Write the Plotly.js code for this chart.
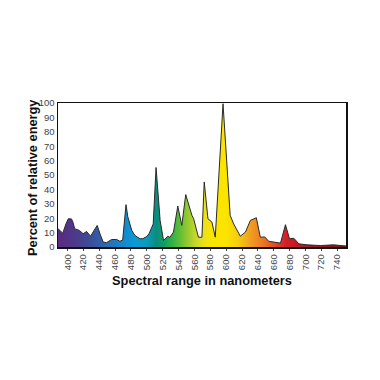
<!DOCTYPE html>
<html>
<head>
<meta charset="utf-8">
<script src="https://cdn.plot.ly/plotly-3.0.1.min.js"></script>
<style>html,body{margin:0;padding:0;background:#fff;}#chart{width:380px;height:380px;}</style>
</head>
<body>
<div id="chart"></div>
<script>
// Wavelength (nm) and relative energy (%)
var wavelengths = [388,391,394,398,401,405,407,409,415,419.7,424,429,433,437.4,441,445,449,455.6,462,466,469.5,473.7,476,478.8,481,485,491.4,495,500,503,506,508,511.6,516.7,521,526.4,529,533.5,539,544,549,553,556.8,559,565,569.4,572.3,577,582,586.2,596,605,609.4,617.8,624.2,630.5,638,643,648.5,653.6,662,668.4,674.7,679.8,685.2,691.5,702,719,735,751];
var energy      = [12.7,11,9.6,16,19.6,19.5,17,12.7,11.5,9.2,10.8,7.5,11,15,9,3.4,3,5.2,5.2,4,4.8,29.4,21,16,11.5,8,5.7,5.8,7.3,9.5,13.8,16,55.2,18.5,4.5,7.5,6.7,10.3,28.4,15,36.4,28,22,19.6,6.8,6.8,45.2,19.6,17.3,6.8,99.5,22,16,7.5,10.3,18.5,20.3,6.8,7,4,3.4,2.7,15.5,5.7,6.1,2.2,1.5,1,1.5,0.7];
var tickValues = [400,420,440,460,480,500,520,540,560,580,600,620,640,660,680,700,720,740];
var tickLabels = tickValues.map(String);
var yTicks = [0,10,20,30,40,50,60,70,80,90,100];
var xTitle = 'Spectral range in nanometers';
var yTitle = 'Percent of relative energy';

// spectral colour stops (nm, colour)
var stopNm = [388,410,430,450,470,485,500,512,522,532,542,552,562,572,582,600,615,630,645,660,675,690,710,751];
var stopColor = ['#5a2a80','#4c3a8c','#3b4f9a','#2a6cb2','#1488cc','#0a9ad6','#0a9cbc','#0a8c80','#10a060','#34b048','#62be34','#98ca30','#c8d828','#ece018','#fbe600','#fae400','#f6cc10','#f0a020','#ec7a24','#e24e28','#d41f2a','#bb1c25','#9c1c1e','#7a1515'];
var lo = stopNm[0], hi = stopNm[stopNm.length-1];
var cs = stopNm.map(function(n,i){return [(n-lo)/(hi-lo), stopColor[i]];});

var trace = {
  x: wavelengths, y: energy, type:'scatter', mode:'lines',
  line:{color:'#2a2a2a', width:1},
  fill:'tozeroy',
  fillgradient:{type:'horizontal', colorscale:cs, start:lo, stop:hi},
  hoverinfo:'skip'
};

var fontFam = '"Liberation Sans", Arial, sans-serif';
var layout = {
  width:380, height:380,
  margin:{l:58, r:34, t:103, b:133},
  paper_bgcolor:'#fff', plot_bgcolor:'#fff',
  showlegend:false,
  font:{family:fontFam, color:'#222'},
  xaxis:{
    range:[388,751], tickvals:tickValues, ticktext:tickLabels, tickangle:-90,
    tickfont:{size:9.5, color:'#444'}, ticks:'outside', ticklen:2, tickcolor:'#444',
    showline:true, mirror:true, linecolor:'#111', linewidth:1.5,
    showgrid:false, zeroline:false,
    title:{text:xTitle, font:{size:12.8, color:'#111', family:fontFam, weight:'bold'}, standoff:7}
  },
  yaxis:{
    range:[0,100], tickvals:yTicks, tickfont:{size:9.5, color:'#444'}, ticks:'',
    showline:true, mirror:true, linecolor:'#111', linewidth:1.5,
    showgrid:false, zeroline:false
  },
  annotations:[{
    text:yTitle, xref:'paper', yref:'paper', x:0, y:0.5, xanchor:'center', yanchor:'middle',
    xshift:-26, yshift:-3, textangle:-90, showarrow:false,
    font:{size:12.8, color:'#111', family:fontFam, weight:'bold'}
  }]
};
Plotly.newPlot('chart',[trace],layout,{staticPlot:true, displayModeBar:false});
</script>
</body>
</html>
